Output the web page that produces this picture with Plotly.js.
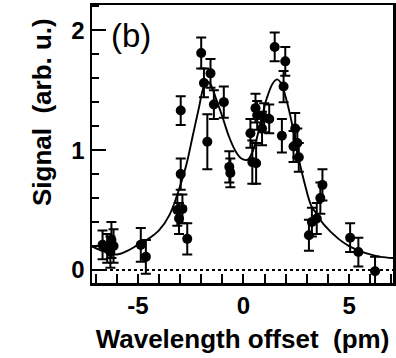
<!DOCTYPE html>
<html>
<head>
<meta charset="utf-8">
<script src="https://cdn.plot.ly/plotly-3.0.1.min.js"></script>
<style>html,body{margin:0;padding:0;background:#fff;}#chart{width:396px;height:358px;}</style>
</head>
<body>
<div id="chart"></div>
<script>
// measured data points (wavelength offset in pm, signal in arb. u., error)
const dataX = [-6.67, -6.45, -6.25, -6.3, -6.15,
  -4.86, -4.62,
  -2.97, -2.97, -3.13, -2.89, -3.05, -2.66,
  -2.0, -1.87, -1.56, -1.71, -1.4, -0.93, -0.67, -0.62,
  0.33, 0.42, 0.6, 0.57, 0.65, 0.88, 0.98, 1.22,
  1.48, 1.98, 1.9, 1.82, 2.45, 2.37, 2.55, 2.62,
  3.74, 3.64, 3.47, 3.24, 3.1,
  5.05, 5.44, 6.23];
const dataY = [0.21, 0.18, 0.25, 0.15, 0.2,
  0.21, 0.11,
  1.33, 0.8, 0.5, 0.51, 0.43, 0.26,
  1.81, 1.56, 1.64, 1.07, 1.38, 1.4, 0.86, 0.81,
  1.14, 0.9, 0.89, 1.35, 1.29, 1.18, 1.27, 1.26,
  1.86, 1.74, 1.53, 1.12, 1.18, 1.03, 1.06, 0.94,
  0.71, 0.6, 0.43, 0.4, 0.29,
  0.27, 0.15, -0.01];
const dataErr = [0.12, 0.12, 0.15, 0.13, 0.14,
  0.14, 0.14,
  0.12, 0.13, 0.13, 0.12, 0.13, 0.13,
  0.13, 0.12, 0.12, 0.23, 0.12, 0.13, 0.13, 0.12,
  0.12, 0.18, 0.17, 0.12, 0.12, 0.14, 0.12, 0.12,
  0.12, 0.12, 0.13, 0.14, 0.13, 0.13, 0.12, 0.12,
  0.13, 0.13, 0.13, 0.12, 0.13,
  0.12, 0.12, 0.12];
// fit curve
const fitX = [-7.2, -6.6, -6.0, -5.5, -5.0, -4.5, -4.0, -3.5, -3.0, -2.7, -2.4, -2.1, -1.9, -1.75, -1.6, -1.3, -1.0, -0.7, -0.4, -0.1, 0.2, 0.5, 0.8, 1.1, 1.4, 1.6, 1.8, 2.0, 2.2, 2.4, 2.6, 2.9, 3.2, 3.5, 3.8, 4.5, 5.0, 5.5, 6.0, 6.5, 7.1];
const fitY = [0.2, 0.155, 0.13, 0.16, 0.21, 0.26, 0.33, 0.46, 0.7, 0.88, 1.12, 1.36, 1.52, 1.57, 1.56, 1.43, 1.28, 1.12, 1.0, 0.93, 0.92, 1.02, 1.22, 1.43, 1.56, 1.59, 1.55, 1.44, 1.3, 1.13, 0.94, 0.72, 0.54, 0.46, 0.38, 0.26, 0.2, 0.16, 0.13, 0.11, 0.1];
const xTickVals = [-5, 0, 5];
const xTickText = ['-5', '0', '5'];
const yTickVals = [0, 1, 2];
const yTickText = ['0', '1', '2'];
const xTitle = 'Wavelength offset  (pm)';
const yTitle = 'Signal  (arb. u.)';

const tickFont = {family: 'Liberation Sans, Arial, sans-serif', size: 24, color: '#000', weight: 'bold'};
const titleFont = {family: 'Liberation Sans, Arial, sans-serif', size: 26, color: '#000', weight: 'bold'};

const traces = [
  {x: fitX, y: fitY, mode: 'lines', line: {color: '#000', width: 1.9, shape: 'spline'}, hoverinfo: 'skip'},
  {x: dataX, y: dataY, mode: 'markers', marker: {color: '#000', size: 10},
   error_y: {type: 'data', array: dataErr, visible: true, color: '#000', thickness: 2, width: 5}}
];

const layout = {
  width: 396, height: 358,
  margin: {l: 92, r: 3, t: 5, b: 75},
  paper_bgcolor: '#fff', plot_bgcolor: '#fff',
  showlegend: false,
  xaxis: {
    range: [-7.17, 7.08], tickvals: xTickVals, ticktext: xTickText,
    ticks: 'inside', ticklen: 9, tickwidth: 2, tickcolor: '#000',
    minor: {dtick: 1, tick0: 0, ticks: 'inside', ticklen: 9, tickwidth: 2, tickcolor: '#000', showgrid: false},
    showline: true, linewidth: 2.5, linecolor: '#000', mirror: true,
    showgrid: false, zeroline: false, tickfont: tickFont, automargin: false,
    title: {text: xTitle, font: titleFont, standoff: 12}
  },
  yaxis: {
    range: [-0.108, 2.21], tickvals: yTickVals, ticktext: yTickText,
    ticks: 'inside', ticklen: 14, tickwidth: 2, tickcolor: '#000',
    minor: {dtick: 0.2, tick0: 0, ticks: 'inside', ticklen: 7, tickwidth: 2, tickcolor: '#000', showgrid: false},
    showline: true, linewidth: 2.5, linecolor: '#000', mirror: true,
    showgrid: false, zeroline: false, tickfont: tickFont, automargin: false
  },
  shapes: [{type: 'line', xref: 'paper', x0: 0, x1: 1, yref: 'y', y0: 0, y1: 0,
            line: {color: '#000', width: 2, dash: 'dot'}}],
  annotations: [
    {text: '(b)', xref: 'paper', yref: 'paper', x: 0.055, y: 0.965, xanchor: 'left', yanchor: 'top',
     showarrow: false, font: {family: 'Liberation Sans, Arial, sans-serif', size: 33, color: '#000'}},
    {text: yTitle, xref: 'paper', yref: 'paper', x: -0.166, y: 0.615, xanchor: 'center', yanchor: 'middle',
     textangle: -90, showarrow: false, font: titleFont}
  ]
};

Plotly.newPlot('chart', traces, layout, {staticPlot: true, displayModeBar: false});
</script>
</body>
</html>
